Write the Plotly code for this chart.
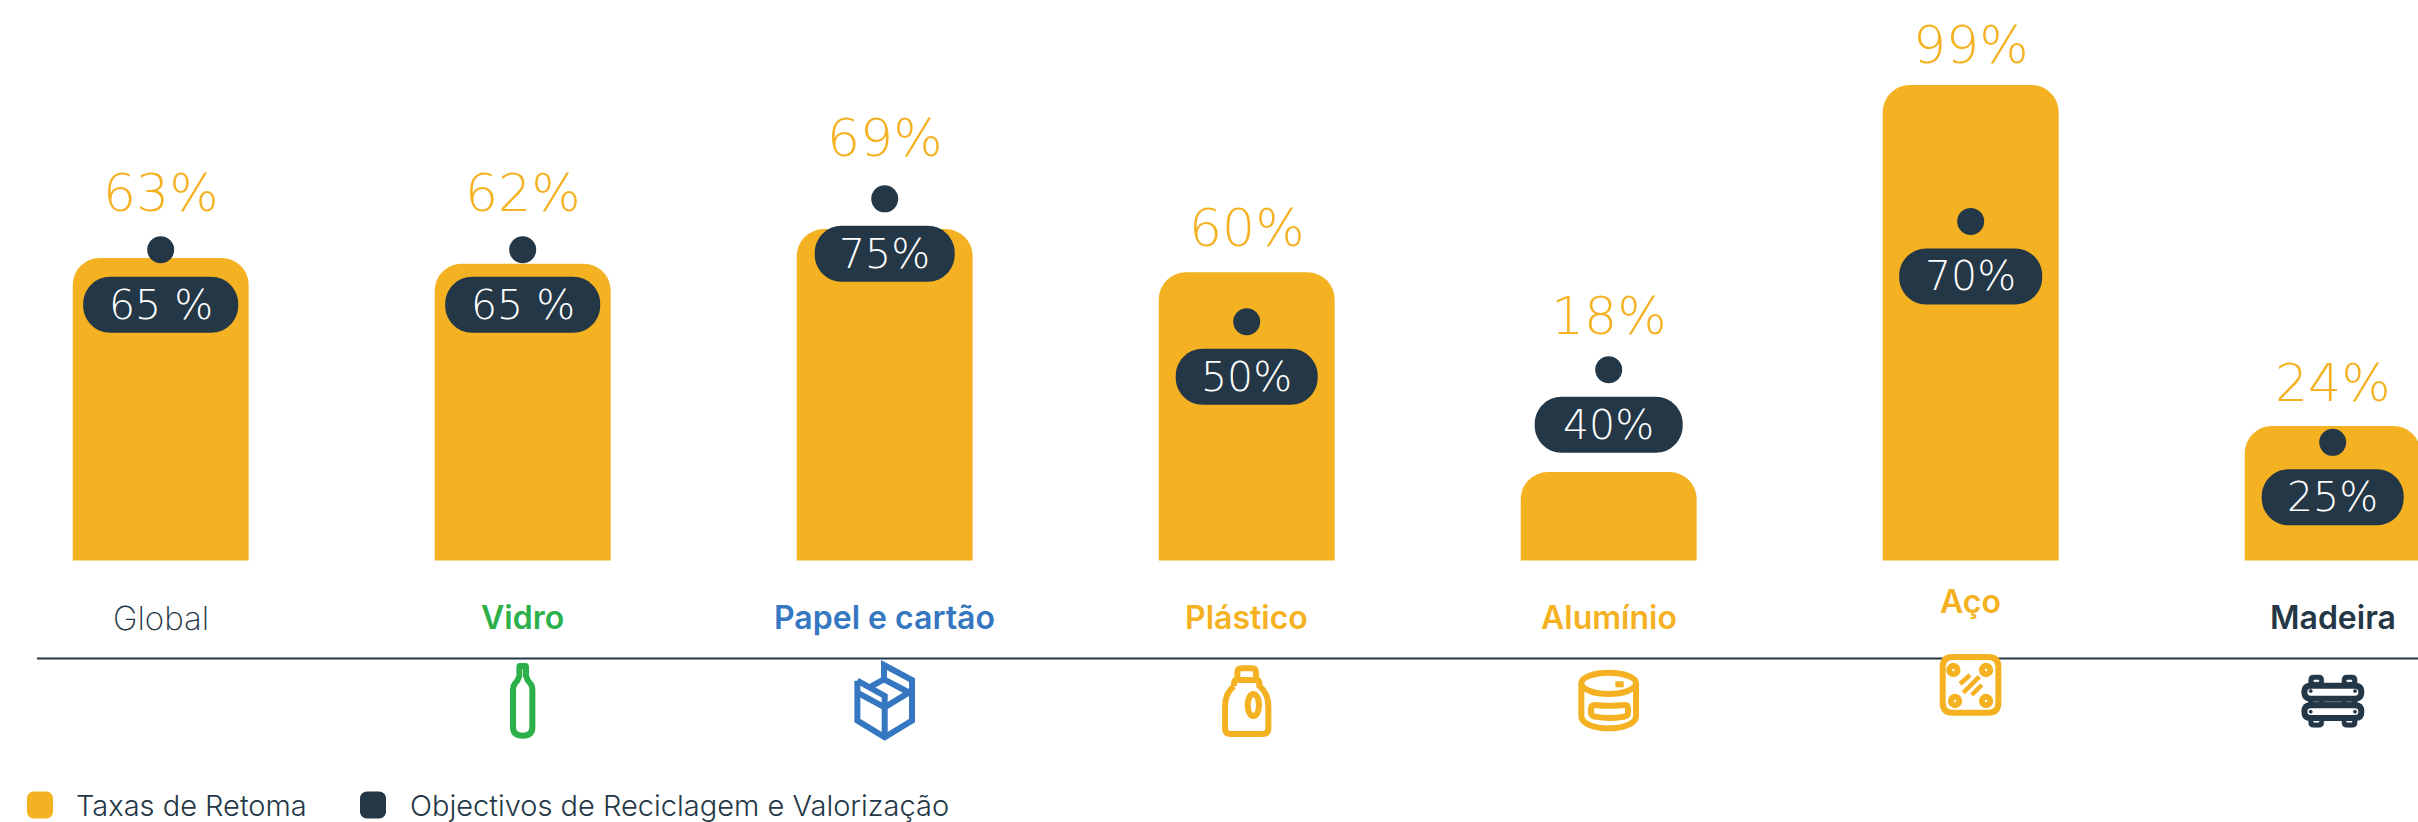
import re
import plotly.graph_objects as go

# ---------- data ----------
categories = ["Global", "Vidro", "Papel e cartão", "Plástico", "Alumínio", "Aço", "Madeira"]
retoma = [63, 61.8, 69, 60, 18.4, 99, 28]
objectivos = [64.7, 64.7, 75.3, 49.7, 39.7, 70.6, 24.6]
objectivo_labels = ["65 %", "65 %", "75%", "50%", "40%", "70%", "25%"]
retoma_labels = ["63%", "62%", "69%", "60%", "18%", "99%", "24%"]
series_names = ["Taxas de Retoma", "Objectivos de Reciclagem e Valorização"]

# ---------- style ----------
W, H = 2418, 822
YELLOW, DARK, GREEN, BLUE = "#F4B223", "#243746", "#2CB04A", "#3577C0"
cat_colors = [DARK, GREEN, BLUE, YELLOW, YELLOW, YELLOW, DARK]
cat_weights = [200, 600, 600, 600, 600, 600, 600]
cat_sizes = [33, 32, 32, 32, 32, 32, 32]
cat_shift = [-57, -57, -57, -57, -57, -41, -57]
label_shift = [57, 57, 61, 44, 54, 40, 43]
pill_w = [155, 155, 140, 142, 148, 143, 142]
FONT = "Inter"
NUM_FONT = "DejaVu Sans"
BASE_PX = 560.5
PX_PER_UNIT = 4.803
SPACING = 362.0
FIRST_X = 160.7
STROKE = 6


def paper_y(py):
    return 1 - py / H


def paper_x(px):
    return px / W


def z(path, cx, cy=150):
    """Convert zoomed-crop path (x right, y down, 3 units per px) to pixel offsets (y up)."""
    out, is_x = [], True
    for tok in re.findall(r"[MLCQZ]|-?\d+\.?\d*", path):
        if tok in "MLCQZ":
            out.append(tok)
            is_x = True
        else:
            v = float(tok)
            out.append(f"{(v - cx) / 3:.2f}" if is_x else f"{-(v - cy) / 3:.2f}")
            is_x = not is_x
    return " ".join(out)


K = 0.5523


def ellipse(cx, cy, rx, ry):
    a, b = rx * K, ry * K
    return (f"M {cx - rx} {cy} C {cx - rx} {cy - b} {cx - a} {cy - ry} {cx} {cy - ry} "
            f"C {cx + a} {cy - ry} {cx + rx} {cy - b} {cx + rx} {cy} "
            f"C {cx + rx} {cy + b} {cx + a} {cy + ry} {cx} {cy + ry} "
            f"C {cx - a} {cy + ry} {cx - rx} {cy + b} {cx - rx} {cy} Z")


def rrect(x0, y0, x1, y1, r):
    return (f"M {x0 + r} {y0} L {x1 - r} {y0} Q {x1} {y0} {x1} {y0 + r} L {x1} {y1 - r} "
            f"Q {x1} {y1} {x1 - r} {y1} L {x0 + r} {y1} Q {x0} {y1} {x0} {y1 - r} "
            f"L {x0} {y0 + r} Q {x0} {y0} {x0 + r} {y0} Z")


def pill(w, h, r, dy=0):
    """Rounded box in pixel offsets around the anchor, moved dy px (y up)."""
    a, b = w / 2, h / 2
    c = r * (1 - K)
    return (f"M {-a + r} {b + dy} L {a - r} {b + dy} C {a - c} {b + dy} {a} {b - c + dy} {a} {b - r + dy} "
            f"L {a} {-b + r + dy} C {a} {-b + c + dy} {a - c} {-b + dy} {a - r} {-b + dy} "
            f"L {-a + r} {-b + dy} C {-a + c} {-b + dy} {-a} {-b + c + dy} {-a} {-b + r + dy} "
            f"L {-a} {b - r + dy} C {-a} {b - c + dy} {-a + c} {b + dy} {-a + r} {b + dy} Z")


CLEAR = "rgba(0,0,0,0)"
plank_top = rrect(72, 77, 243, 116, 19)
plank_bot = rrect(72, 136, 243, 174, 19)
icons = [
    ("Vidro", 98, 700, [
        ("M 90 48 L 106 48 Q 108 48 108 52 L 108 78 Q 112 92 122 102 Q 127 108 127 118 L 127 232 "
         "C 127 250 115 257 98 257 C 81 257 69 250 69 232 L 69 118 Q 69 108 74 102 "
         "Q 84 92 88 78 L 88 52 Q 88 48 90 48 Z", CLEAR, GREEN, STROKE)]),
    ("Papel e cartão", 150, 700, [
        ("M 68 92 L 68 212 L 150 262 L 232 212 L 232 90 L 148 45 L 148 88 L 108 110", CLEAR, BLUE, STROKE),
        ("M 68 92 L 150 138 L 150 262", CLEAR, BLUE, STROKE),
        ("M 68 128 L 150 172 L 232 122", CLEAR, BLUE, STROKE),
        ("M 148 88 L 220 126", CLEAR, BLUE, STROKE)]),
    ("Plástico", 140, 700, [
        ("M 112 88 L 112 68 Q 112 55 125 55 L 156 55 Q 168 55 168 68 L 168 88", CLEAR, YELLOW, STROKE),
        ("M 102 108 L 102 100 Q 102 90 112 90 L 168 90 Q 178 90 178 100 L 178 108 "
         "Q 205 130 205 170 L 205 235 Q 205 252 188 252 L 92 252 Q 75 252 75 235 L 75 170 "
         "Q 75 130 102 108", CLEAR, YELLOW, STROKE),
        (ellipse(160, 165, 17, 33), CLEAR, YELLOW, STROKE)]),
    ("Alumínio", 150, 700, [
        (ellipse(150, 100, 82, 32), CLEAR, YELLOW, STROKE),
        ("M 68 100 L 68 198 C 68 222 110 235 150 235 C 190 235 232 222 232 198 L 232 100", CLEAR, YELLOW, STROKE),
        ("M 110 165 Q 150 170 195 165 Q 208 163 208 175 L 208 190 Q 208 198 195 200 "
         "Q 150 208 110 200 Q 97 198 97 188 L 97 175 Q 97 165 110 165 Z", CLEAR, YELLOW, STROKE),
        ("M 170 103 L 195 103", CLEAR, YELLOW, STROKE)]),
    ("Aço", 152, 690, [
        (rrect(68, 51, 235, 218, 30), "#FFFFFF", YELLOW, STROKE),
        (ellipse(100, 90, 12.5, 12.5), CLEAR, YELLOW, STROKE),
        (ellipse(198, 90, 12.5, 12.5), CLEAR, YELLOW, STROKE),
        (ellipse(105, 183, 12.5, 12.5), CLEAR, YELLOW, STROKE),
        (ellipse(198, 183, 12.5, 12.5), CLEAR, YELLOW, STROKE),
        ("M 120 132 L 150 105", CLEAR, YELLOW, 4.5),
        ("M 130 158 L 178 110", CLEAR, YELLOW, 4.5),
        ("M 155 165 L 185 135", CLEAR, YELLOW, 4.5)]),
    ("Madeira", 157, 710, [
        (rrect(85, 45, 130, 202, 14), DARK, DARK, 0.5),
        (rrect(185, 45, 230, 202, 14), DARK, DARK, 0.5),
        (rrect(85, 112, 230, 140, 0), DARK, DARK, 0.5),
        (rrect(100, 60, 116, 65, 2), "#FFFFFF", "#FFFFFF", 0.5),
        (rrect(199, 60, 215, 65, 2), "#FFFFFF", "#FFFFFF", 0.5),
        (rrect(100, 182, 116, 187, 2), "#FFFFFF", "#FFFFFF", 0.5),
        (rrect(199, 182, 215, 187, 2), "#FFFFFF", "#FFFFFF", 0.5),
        (rrect(100, 122, 116, 126, 1), "#FFFFFF", "#FFFFFF", 0.5),
        (rrect(199, 122, 215, 126, 1), "#FFFFFF", "#FFFFFF", 0.5),
        (rrect(132, 122, 183, 126, 1), "#FFFFFF", "#FFFFFF", 0.5),
        (plank_top, "#FFFFFF", DARK, STROKE),
        (plank_bot, "#FFFFFF", DARK, STROKE),
        (ellipse(91, 93, 5, 5), DARK, DARK, 0.5),
        (ellipse(224, 93, 5, 5), DARK, DARK, 0.5),
        (ellipse(91, 155, 5, 5), DARK, DARK, 0.5),
        (ellipse(224, 155, 5, 5), DARK, DARK, 0.5)]),
]

# ---------- figure ----------
fig = go.Figure()
fig.add_bar(x=categories, y=retoma, name=series_names[0],
            marker=dict(color=YELLOW, cornerradius=27, line_width=0), hoverinfo="x+y")
fig.add_scatter(x=categories, y=objectivos, name=series_names[1], mode="markers",
                marker=dict(color=DARK, size=27, line_width=0), hoverinfo="x+y")

shapes, annotations = [], []

shapes.append(dict(type="line", xref="paper", yref="paper", x0=paper_x(37), x1=1,
                   y0=paper_y(658.5), y1=paper_y(658.5), line=dict(color=DARK, width=2), layer="below"))

for i, cat in enumerate(categories):
    shapes.append(dict(type="path", xref="x", yref="y", xsizemode="pixel", ysizemode="pixel",
                       xanchor=cat, yanchor=objectivos[i], path=pill(pill_w[i], 56, 27, dy=-55),
                       fillcolor=DARK, line_width=0, layer="above"))
    annotations.append(dict(x=cat, y=objectivos[i], yshift=-55, text=objectivo_labels[i], showarrow=False,
                            xanchor="center", yanchor="middle",
                            font=dict(family=NUM_FONT, size=41, color="#FFFFFF", weight=200)))
    annotations.append(dict(x=cat, y=max(retoma[i], objectivos[i]), yshift=label_shift[i], text=retoma_labels[i],
                            showarrow=False, xanchor="center", yanchor="middle",
                            font=dict(family=NUM_FONT, size=52, color=YELLOW, weight=200)))
    annotations.append(dict(x=cat, y=0, yshift=cat_shift[i], text=cat, showarrow=False,
                            xanchor="center", yanchor="middle",
                            font=dict(family=FONT, size=cat_sizes[i], color=cat_colors[i], weight=cat_weights[i])))

for cat, zcx, cy_px, parts in icons:
    for path, fill, col, lw in parts:
        shapes.append(dict(type="path", xref="x", yref="paper", xsizemode="pixel", ysizemode="pixel",
                           xanchor=cat, yanchor=paper_y(cy_px), path=z(path, zcx),
                           fillcolor=fill, line=dict(color=col, width=lw), layer="above"))

for x0, col, tx, name in [(27, YELLOW, 74, series_names[0]), (360, DARK, 408, series_names[1])]:
    shapes.append(dict(type="path", xref="paper", yref="paper", xsizemode="pixel", ysizemode="pixel",
                       xanchor=paper_x(x0 + 13), yanchor=paper_y(805), path=pill(26, 27, 7),
                       fillcolor=col, line_width=0))
    annotations.append(dict(xref="paper", yref="paper", x=paper_x(tx), y=0, yshift=-3, text=name,
                            showarrow=False, xanchor="left", yanchor="bottom",
                            font=dict(family=FONT, size=29, color=DARK, weight=300)))

fig.update_layout(
    width=W, height=H, margin=dict(l=0, r=0, t=0, b=0, pad=0),
    paper_bgcolor="#FFFFFF", plot_bgcolor="#FFFFFF", showlegend=False, bargap=0.514,
    xaxis=dict(type="category", categoryorder="array", categoryarray=categories,
               range=[-FIRST_X / SPACING, (W - FIRST_X) / SPACING],
               showgrid=False, zeroline=False, showticklabels=False, ticks="", showline=False),
    yaxis=dict(range=[-(H - BASE_PX) / PX_PER_UNIT, BASE_PX / PX_PER_UNIT],
               showgrid=False, zeroline=False, showticklabels=False, ticks="", showline=False),
    shapes=shapes, annotations=annotations,
)
fig.write_html("out.html", config=dict(displayModeBar=False),
               post_script="document.body.style.margin='0';document.body.style.overflow='hidden';")
